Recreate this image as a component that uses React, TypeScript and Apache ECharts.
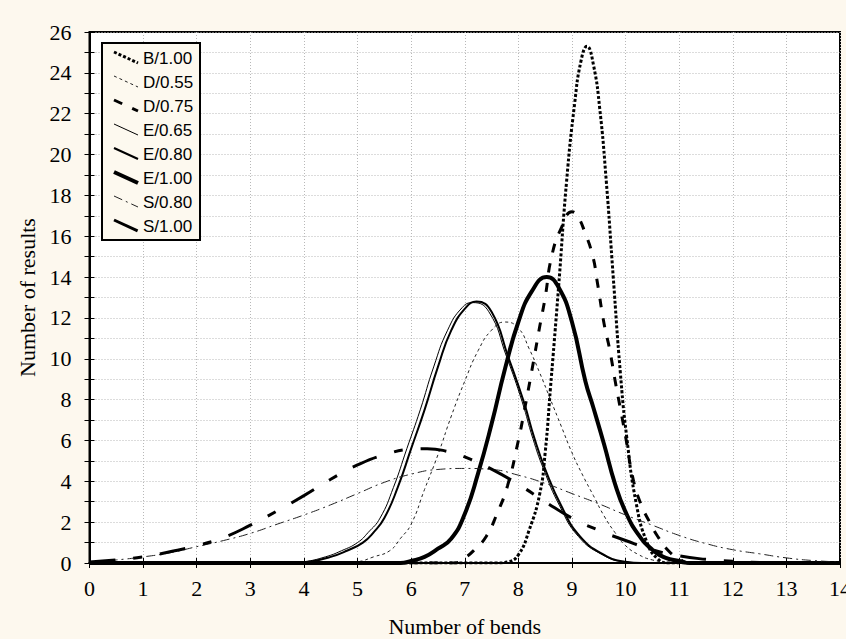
import React, { useEffect, useRef } from "react";
import * as echarts from "echarts";

const seriesNames = ["B/1.00", "D/0.55", "D/0.75", "E/0.65", "E/0.80", "E/1.00", "S/0.80", "S/1.00"];

const B100 = [[0,0],[7.6,0],[7.8,0.05],[8.0,0.4],[8.2,1.6],[8.4,3.4],[8.5,5.4],[8.6,8.6],[8.75,13.5],[8.9,18.7],[9.05,22.5],[9.17,24.6],[9.28,25.3],[9.4,24.4],[9.52,22.2],[9.64,18.7],[9.77,14.0],[9.9,9.4],[10.02,6.2],[10.2,2.9],[10.4,1.0],[10.6,0.2],[10.8,0],[14,0]];
const D055 = [[0,0],[4.7,0],[5.0,0.06],[5.3,0.3],[5.6,0.6],[5.8,1.2],[6.0,1.9],[6.25,3.6],[6.5,5.3],[6.75,7.2],[7.0,8.9],[7.25,10.4],[7.5,11.4],[7.75,11.8],[8.0,11.5],[8.2,10.5],[8.4,9.3],[8.6,8.0],[8.8,6.7],[9.0,5.4],[9.2,4.3],[9.4,3.3],[9.6,2.3],[9.8,1.5],[10.0,0.85],[10.25,0.4],[10.5,0.15],[10.8,0.03],[11.0,0],[14,0]];
const D075 = [[0,0],[6.8,0],[7.0,0.25],[7.2,0.7],[7.4,1.3],[7.6,2.4],[7.8,3.8],[8.0,6.0],[8.1,7.3],[8.25,9.4],[8.4,11.6],[8.5,13.0],[8.62,15.0],[8.8,16.4],[9.0,17.2],[9.1,17.0],[9.24,16.2],[9.39,15.0],[9.47,13.8],[9.6,11.7],[9.7,10.5],[9.8,9.0],[9.9,7.6],[10.0,6.2],[10.15,4.0],[10.3,2.8],[10.45,2.0],[10.6,1.3],[10.8,0.6],[11.0,0.2],[11.2,0],[14,0]];
const E065 = [[0,0],[3.7,0],[4.0,0.06],[4.4,0.3],[4.7,0.6],[5.0,1.0],[5.2,1.5],[5.42,2.2],[5.67,3.7],[5.92,5.6],[6.17,7.5],[6.42,9.6],[6.68,11.4],[6.95,12.5],[7.15,12.75],[7.45,12.3],[7.78,10.1],[8.07,7.9],[8.27,6.1],[8.47,4.6],[8.77,2.8],[9.12,1.3],[9.57,0.4],[9.97,0.06],[10.3,0],[14,0]];
const E080 = [[0,0],[3.8,0],[4.1,0.06],[4.5,0.3],[4.8,0.6],[5.1,1.0],[5.3,1.5],[5.5,2.2],[5.75,3.7],[6.0,5.6],[6.25,7.5],[6.5,9.6],[6.75,11.4],[7.02,12.5],[7.22,12.8],[7.5,12.3],[7.81,10.1],[8.1,7.9],[8.3,6.1],[8.5,4.6],[8.8,2.8],[9.15,1.3],[9.6,0.4],[10.0,0.06],[10.3,0],[14,0]];
const E100 = [[0,0],[5.8,0],[6.0,0.1],[6.25,0.3],[6.5,0.7],[6.75,1.2],[7.0,2.4],[7.25,4.4],[7.5,6.8],[7.75,9.5],[8.0,11.8],[8.25,13.3],[8.53,14.0],[8.75,13.5],[9.0,11.8],[9.25,8.9],[9.4,7.6],[9.6,5.8],[9.8,3.9],[10.0,2.5],[10.25,1.35],[10.5,0.65],[10.75,0.25],[11.0,0.1],[11.2,0],[14,0]];
const S080 = [[0,0.05],[0.5,0.15],[1.0,0.3],[1.5,0.5],[2.0,0.8],[2.5,1.1],[3.0,1.45],[3.5,1.9],[4.0,2.35],[4.5,2.85],[5.0,3.4],[5.5,3.95],[6.0,4.35],[6.5,4.58],[7.0,4.63],[7.5,4.58],[8.0,4.3],[8.5,3.9],[9.0,3.4],[9.5,2.9],[10.0,2.35],[10.5,1.85],[11.0,1.35],[11.5,0.95],[12.0,0.65],[12.5,0.45],[13.0,0.25],[13.5,0.12],[14.0,0.05]];
const S100 = [[0,0.05],[0.5,0.15],[1.0,0.3],[1.5,0.55],[2.0,0.85],[2.5,1.25],[3.0,1.85],[3.5,2.55],[4.0,3.3],[4.5,4.1],[5.0,4.8],[5.5,5.3],[6.0,5.57],[6.3,5.6],[6.7,5.45],[7.0,5.2],[7.5,4.6],[8.0,3.85],[8.5,3.0],[9.0,2.2],[9.5,1.6],[10.0,1.1],[10.5,0.65],[11.0,0.35],[11.5,0.18],[12.0,0.08],[12.5,0.03],[13,0],[14,0]];

const seriesData = [B100, D055, D075, E065, E080, E100, S080, S100];

const styles = [
  { width: 3, dash: [3, 2], color: "#000" },
  { width: 1, dash: [3, 3], color: "#222" },
  { width: 3, dash: [9, 11], color: "#000" },
  { width: 1, dash: null, color: "#000" },
  { width: 2, dash: null, color: "#000" },
  { width: 4, dash: null, color: "#000" },
  { width: 1, dash: [9, 4, 2, 4], color: "#222" },
  { width: 3, dash: [26, 18, 9, 18], color: "#000" },
];

export default function App() {
  const ref = useRef<HTMLDivElement>(null);
  useEffect(() => {
    if (!ref.current) return;
    const chart = echarts.init(ref.current, null, { renderer: "svg" });
    const serif = '"Liberation Serif", "Times New Roman", serif';
    const gridLine = { show: true, lineStyle: { color: "#b8b8b8", type: [1, 2], width: 1 } };
    const legendTop = 58;
    const legendStep = 24;
    const graphics: any[] = [
      {
        type: "rect",
        shape: { x: 102, y: 43, width: 98, height: 197 },
        style: { fill: "#FDF9EF", stroke: "#000", lineWidth: 2 },
        z: 100,
      },
    ];
    seriesNames.forEach((name, i) => {
      const c = legendTop + i * legendStep;
      const st = styles[i];
      graphics.push({
        type: "line",
        shape: { x1: 114, y1: c - 6, x2: 138, y2: c + 5 },
        style: { stroke: st.color, lineWidth: st.width, lineDash: st.dash || undefined },
        z: 101,
      });
      graphics.push({
        type: "text",
        style: {
          text: name,
          x: 143,
          y: c,
          verticalAlign: "middle",
          fill: "#000",
          font: '17px "Liberation Sans", Arial, sans-serif',
        },
        z: 101,
      });
    });

    chart.setOption({
      animation: false,
      backgroundColor: "#FDF8EE",
      grid: {
        left: 89.5,
        right: 6,
        top: 32,
        bottom: 76,
        outerBoundsMode: "none",
        containLabel: false,
        show: true,
        backgroundColor: "#fff",
        borderColor: "#000",
        borderWidth: 2,
      },
      xAxis: [
        {
          type: "value",
          min: 0,
          max: 14,
          interval: 1,
          name: "Number of bends",
          nameLocation: "middle",
          nameGap: 52,
          nameTextStyle: { fontFamily: serif, fontSize: 22, color: "#000" },
          axisLine: { show: true, onZero: false, lineStyle: { color: "#000", width: 2 } },
          axisTick: { show: true, inside: true, length: 5, lineStyle: { color: "#000", width: 1 } },
          axisLabel: { fontFamily: serif, fontSize: 22, color: "#000", margin: 14 },
          splitLine: gridLine,
        },
        {
          type: "value",
          position: "top",
          min: 0,
          max: 14,
          interval: 1,
          axisLine: { show: true, lineStyle: { color: "#000", width: 2 } },
          axisTick: { show: true, inside: true, length: 5, lineStyle: { color: "#000", width: 1 } },
          axisLabel: { show: false },
          splitLine: { show: false },
        },
      ],
      yAxis: [
        {
          type: "value",
          min: 0,
          max: 26,
          interval: 1,
          name: "Number of results",
          nameLocation: "middle",
          nameGap: 50,
          nameTextStyle: { fontFamily: serif, fontSize: 22, color: "#000" },
          axisLine: { show: true, onZero: false, lineStyle: { color: "#000", width: 2 } },
          axisTick: { show: true, inside: true, length: 5, lineStyle: { color: "#000", width: 1 } },
          axisLabel: {
            fontFamily: serif,
            fontSize: 22,
            color: "#000",
            margin: 18,
            formatter: (v: number) => (v % 2 === 0 ? String(v) : ""),
          },
          splitLine: gridLine,
        },
        {
          type: "value",
          position: "right",
          min: 0,
          max: 26,
          interval: 1,
          axisLine: { show: true, lineStyle: { color: "#000", width: 2 } },
          axisTick: { show: true, inside: true, length: 5, lineStyle: { color: "#000", width: 1 } },
          axisLabel: { show: false },
          splitLine: { show: false },
        },
      ],
      graphic: graphics,
      series: seriesNames.map((name, i) => ({
        name,
        type: "line",
        xAxisIndex: 0,
        yAxisIndex: 0,
        data: seriesData[i],
        showSymbol: false,
        symbol: "none",
        smooth: 0.5,
        clip: true,
        lineStyle: {
          color: styles[i].color,
          width: styles[i].width,
          type: styles[i].dash || "solid",
          cap: "butt",
        },
        z: 3,
      })),
    });
    return () => chart.dispose();
  }, []);
  return <div ref={ref} style={{ position: "fixed", left: 0, top: 0, width: 846, height: 639 }} />;
}
